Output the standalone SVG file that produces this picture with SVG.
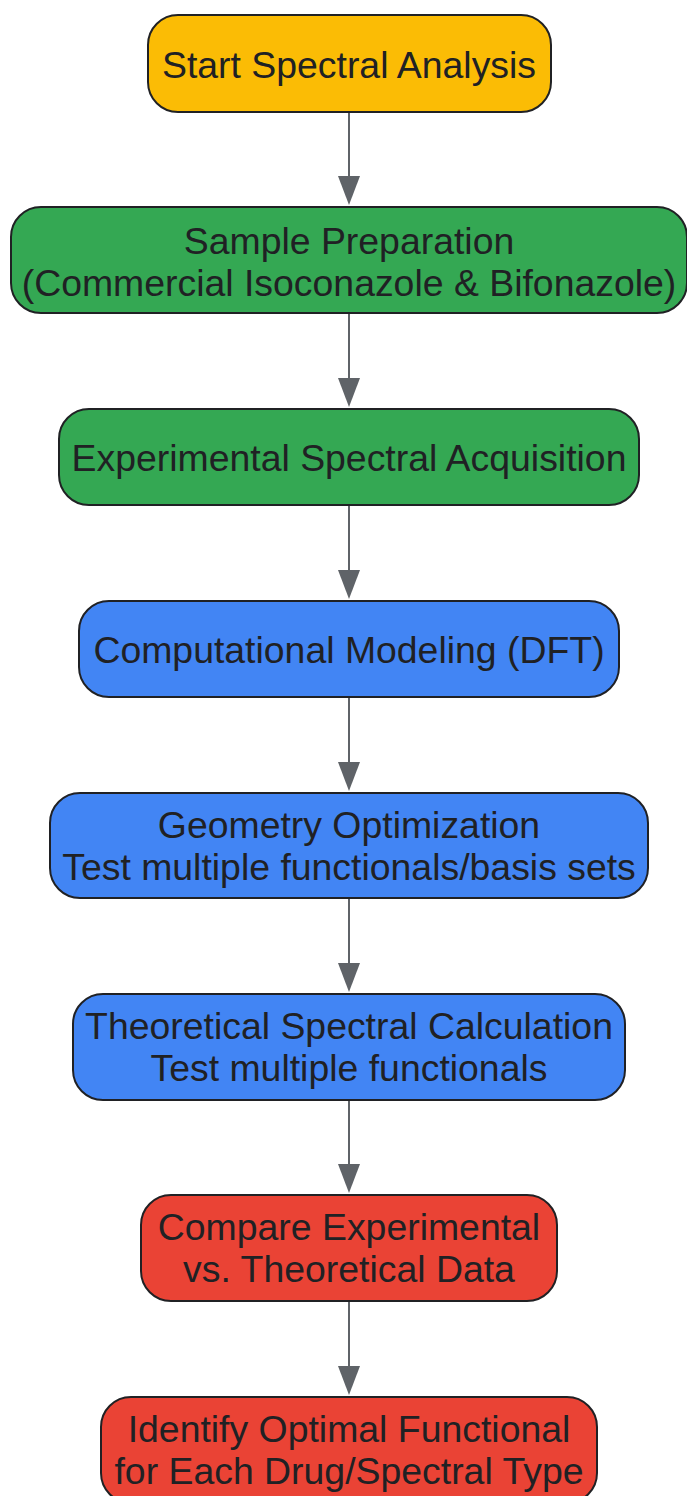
<svg xmlns="http://www.w3.org/2000/svg" width="687" height="1496" viewBox="0 0 687 1496">
<defs>
<style>
.n rect{stroke:#202124;stroke-width:2}
.y{fill:#FBBC05}.g{fill:#34A853}.b{fill:#4285F4}.r{fill:#EA4335}
text{font-family:"Liberation Sans",Arial,sans-serif;font-size:37.4px;fill:#202124;text-anchor:middle}
.e line{stroke:#5F6368;stroke-width:2}
.e path{fill:#5F6368}
</style>
</defs>
<rect width="687" height="1496" fill="#FFFFFF"/>
<g class="e" id="connectors">
<line x1="349" y1="112" x2="349" y2="180"/><path d="M338 176 L360 176 L349 205 Z"/>
<line x1="349" y1="313" x2="349" y2="382"/><path d="M338 378 L360 378 L349 407 Z"/>
<line x1="349" y1="505" x2="349" y2="574"/><path d="M338 570 L360 570 L349 599 Z"/>
<line x1="349" y1="697" x2="349" y2="766"/><path d="M338 762 L360 762 L349 791 Z"/>
<line x1="349" y1="898" x2="349" y2="967"/><path d="M338 963 L360 963 L349 992 Z"/>
<line x1="349" y1="1100" x2="349" y2="1168"/><path d="M338 1164 L360 1164 L349 1193 Z"/>
<line x1="349" y1="1301" x2="349" y2="1370"/><path d="M338 1366 L360 1366 L349 1395 Z"/>
</g>
<g class="n" id="start"><rect class="y" x="148" y="15" width="403" height="97" rx="30"/><text x="349" y="78">Start Spectral Analysis</text></g>
<g class="n" id="prep"><rect class="g" x="11" y="207" width="676" height="106" rx="30"/><text x="349" y="254">Sample Preparation</text><text x="349" y="296">(Commercial Isoconazole &amp; Bifonazole)</text></g>
<g class="n" id="exp"><rect class="g" x="59" y="409" width="580" height="96" rx="30"/><text x="349" y="471">Experimental Spectral Acquisition</text></g>
<g class="n" id="comp"><rect class="b" x="79" y="601" width="540" height="96" rx="30"/><text x="349" y="663">Computational Modeling (DFT)</text></g>
<g class="n" id="geom"><rect class="b" x="50" y="793" width="598" height="105" rx="30"/><text x="349" y="838">Geometry Optimization</text><text x="349" y="880">Test multiple functionals/basis sets</text></g>
<g class="n" id="theo"><rect class="b" x="73" y="994" width="552" height="106" rx="30"/><text x="349" y="1039">Theoretical Spectral Calculation</text><text x="349" y="1081">Test multiple functionals</text></g>
<g class="n" id="cmp"><rect class="r" x="141" y="1195" width="416" height="106" rx="30"/><text x="349" y="1240">Compare Experimental</text><text x="349" y="1282">vs. Theoretical Data</text></g>
<g class="n" id="ident"><rect class="r" x="101" y="1397" width="496" height="106" rx="30"/><text x="349" y="1442">Identify Optimal Functional</text><text x="349" y="1484">for Each Drug/Spectral Type</text></g>
</svg>
